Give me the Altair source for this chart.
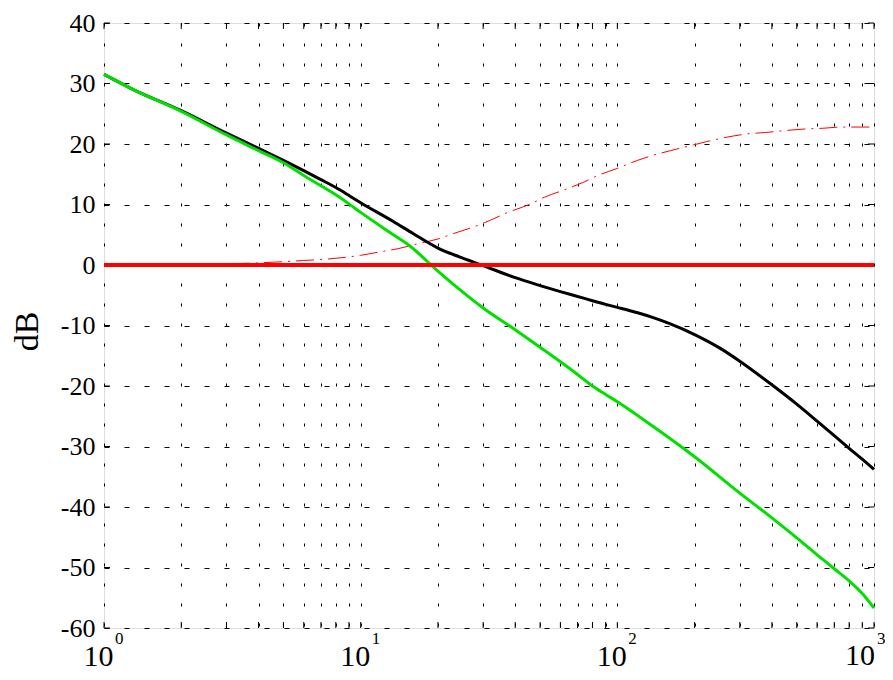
import altair as alt
import pandas as pd

# ---- data ----
x_ticks = [1, 2, 3, 4, 5, 6, 7, 8, 9,
           10, 20, 30, 40, 50, 60, 70, 80, 90,
           100, 200, 300, 400, 500, 600, 700, 800, 900, 1000]
decades = [1, 10, 100]
exponents = ["0", "1", "2"]
last_decade = [1000]
last_exponent = ["3"]
y_ticks = [-60, -50, -40, -30, -20, -10, 0, 10, 20, 30, 40]

black_f = [1, 1.3, 2, 3, 4, 5, 6, 7, 8, 9, 10, 13.4, 16, 20, 24.4, 30, 40, 50, 60, 70, 80, 90,
           100, 120, 138, 160, 200, 250, 300, 400, 500, 600, 700, 800, 900, 1000]
black_db = [31.5, 29.0, 25.5, 21.8, 19.3, 17.3, 15.6, 14.1, 12.8, 11.5, 10.3, 7.2, 5.2, 2.8, 1.3, -0.1,
            -2.1, -3.4, -4.4, -5.2, -5.9, -6.5, -7.0, -7.9, -8.7, -9.7, -11.5, -13.7, -15.9, -19.8,
            -23.0, -25.8, -28.2, -30.3, -32.1, -33.8]

green_f = [1, 1.3, 2, 3, 4, 5, 6, 7, 8, 9, 10, 13.4, 15.6, 18.6, 20, 24.4, 30, 40, 50, 60, 70, 80, 90,
           100, 138, 200, 300, 400, 500, 600, 700, 800, 900, 1000]
green_db = [31.5, 29.0, 25.4, 21.5, 18.9, 16.9, 14.8, 13.1, 11.6, 10.1, 8.7, 5.0, 3.1, 0.2, -1.0, -4.1,
            -7.1, -10.7, -13.6, -16.0, -18.1, -20.0, -21.4, -22.6, -26.7, -31.7, -37.7, -41.8,
            -45.1, -47.9, -50.2, -52.2, -54.3, -56.7]

red_f = [1, 2, 3, 4, 5, 6, 7, 8.4, 10, 12, 14, 17, 20, 23, 28, 32, 37.5, 46, 52, 61, 74, 84, 99,
         120, 137, 161, 198, 223, 265, 326, 378, 444, 546, 632, 743, 1000]
red_db = [0.05, 0.1, 0.2, 0.35, 0.55, 0.75, 0.9, 1.2, 1.6, 2.2, 2.7, 3.6, 4.3, 5.2, 6.4, 7.4, 8.7,
          10.1, 11.2, 12.3, 13.7, 14.8, 15.9, 17.3, 18.1, 18.9, 19.85, 20.4, 21.1, 21.7, 21.9,
          22.2, 22.5, 22.6, 22.8, 22.8]

zero_db = [0]

# ---- chart ----
W, H = 770, 605
SERIF = "Liberation Serif"
LBL_PAD = 13
EXP_Y = H + 16

xs = alt.Scale(type="log", domain=[1, 1000], nice=False)
ys = alt.Scale(domain=[-60, 40], nice=False)

x_axis = alt.Axis(
    values=x_ticks,
    labelExpr="(datum.value==1||datum.value==10||datum.value==100) ? '10' : ''",
    labelFont=SERIF, labelFontSize=30, labelColor="black",
    labelPadding=LBL_PAD, labelOffset=-6, labelFlush=False, labelOverlap=False,
    grid=True, gridDash=[3, 17], gridColor="black", gridWidth=1, gridOpacity=1,
    ticks=False, domain=False, title=None,
)
y_axis = alt.Axis(
    values=y_ticks,
    labelExpr="'' + datum.value",
    labelFont=SERIF, labelFontSize=26, labelColor="black",
    labelPadding=9, labelFlush=False, labelOverlap=False,
    grid=True, gridDash=[5, 15], gridColor="black", gridWidth=1, gridOpacity=1,
    ticks=False, domain=False,
    title="dB", titleFont=SERIF, titleFontSize=34, titleFontWeight="normal",
    titleColor="black", titleAngle=270, titleX=-67, titleY=308,
    titleAlign="center", titleBaseline="alphabetic",
)

X = lambda f: alt.X(f"{f}:Q", scale=xs, axis=x_axis)
Y = lambda f: alt.Y(f"{f}:Q", scale=ys, axis=y_axis)

df_black = pd.DataFrame({"f": black_f, "db": black_db})
df_green = pd.DataFrame({"f": green_f, "db": green_db})
df_red = pd.DataFrame({"f": red_f, "db": red_db})
df_zero = pd.DataFrame({"db": zero_db})
df_xt = pd.DataFrame({"f": x_ticks})
df_yt = pd.DataFrame({"db": y_ticks})
df_exp = pd.DataFrame({"f": decades, "e": exponents})
df_last = pd.DataFrame({"f": last_decade, "e": last_exponent, "b": ["10"]})

red_dd = alt.Chart(df_red).mark_line(
    color="#ff0000", strokeWidth=1, strokeDash=[18, 6, 2, 6], interpolate="monotone"
).encode(x=X("f"), y=Y("db"), order="f:Q")
green = alt.Chart(df_green).mark_line(
    color="#00e000", strokeWidth=3, interpolate="monotone"
).encode(x=X("f"), y=Y("db"), order="f:Q")
black = alt.Chart(df_black).mark_line(
    color="black", strokeWidth=3, interpolate="monotone"
).encode(x=X("f"), y=Y("db"), order="f:Q")
zero = alt.Chart(df_zero).mark_rule(color="#ff0000", strokeWidth=4).encode(y=Y("db"))

tick_bottom = alt.Chart(df_xt).mark_rule(color="black", strokeWidth=1).encode(
    x=X("f"), y=alt.value(H), y2=alt.value(H - 6))
tick_top = alt.Chart(df_xt).mark_rule(color="black", strokeWidth=1).encode(
    x=X("f"), y=alt.value(0), y2=alt.value(6))
tick_left = alt.Chart(df_yt).mark_rule(color="black", strokeWidth=1).encode(
    y=Y("db"), x=alt.value(0), x2=alt.value(6))
tick_right = alt.Chart(df_yt).mark_rule(color="black", strokeWidth=1).encode(
    y=Y("db"), x=alt.value(W), x2=alt.value(W - 6))

exps = alt.Chart(df_exp).mark_text(
    font=SERIF, fontSize=17, color="black", align="left", baseline="alphabetic", dx=11
).encode(x=X("f"), y=alt.value(EXP_Y), text="e:N")

last_base = alt.Chart(df_last).mark_text(
    font=SERIF, fontSize=30, color="black", align="center", baseline="top", dx=-14
).encode(x=X("f"), y=alt.value(H + LBL_PAD), text="b:N")
last_exp = alt.Chart(df_last).mark_text(
    font=SERIF, fontSize=17, color="black", align="left", baseline="alphabetic", dx=3
).encode(x=X("f"), y=alt.value(EXP_Y), text="e:N")

chart = alt.layer(
    tick_bottom, tick_top, tick_left, tick_right,
    red_dd, black, green, zero, exps, last_base, last_exp,
).properties(
    width=W, height=H,
    autosize=alt.AutoSizeParams(type="none"),
    padding={"left": 96, "top": 15, "right": 11, "bottom": 44},
).configure_view(
    stroke="black", strokeWidth=1.5
).configure(background="white")

chart.save("out.html", embed_options={"renderer": "svg", "actions": False})
